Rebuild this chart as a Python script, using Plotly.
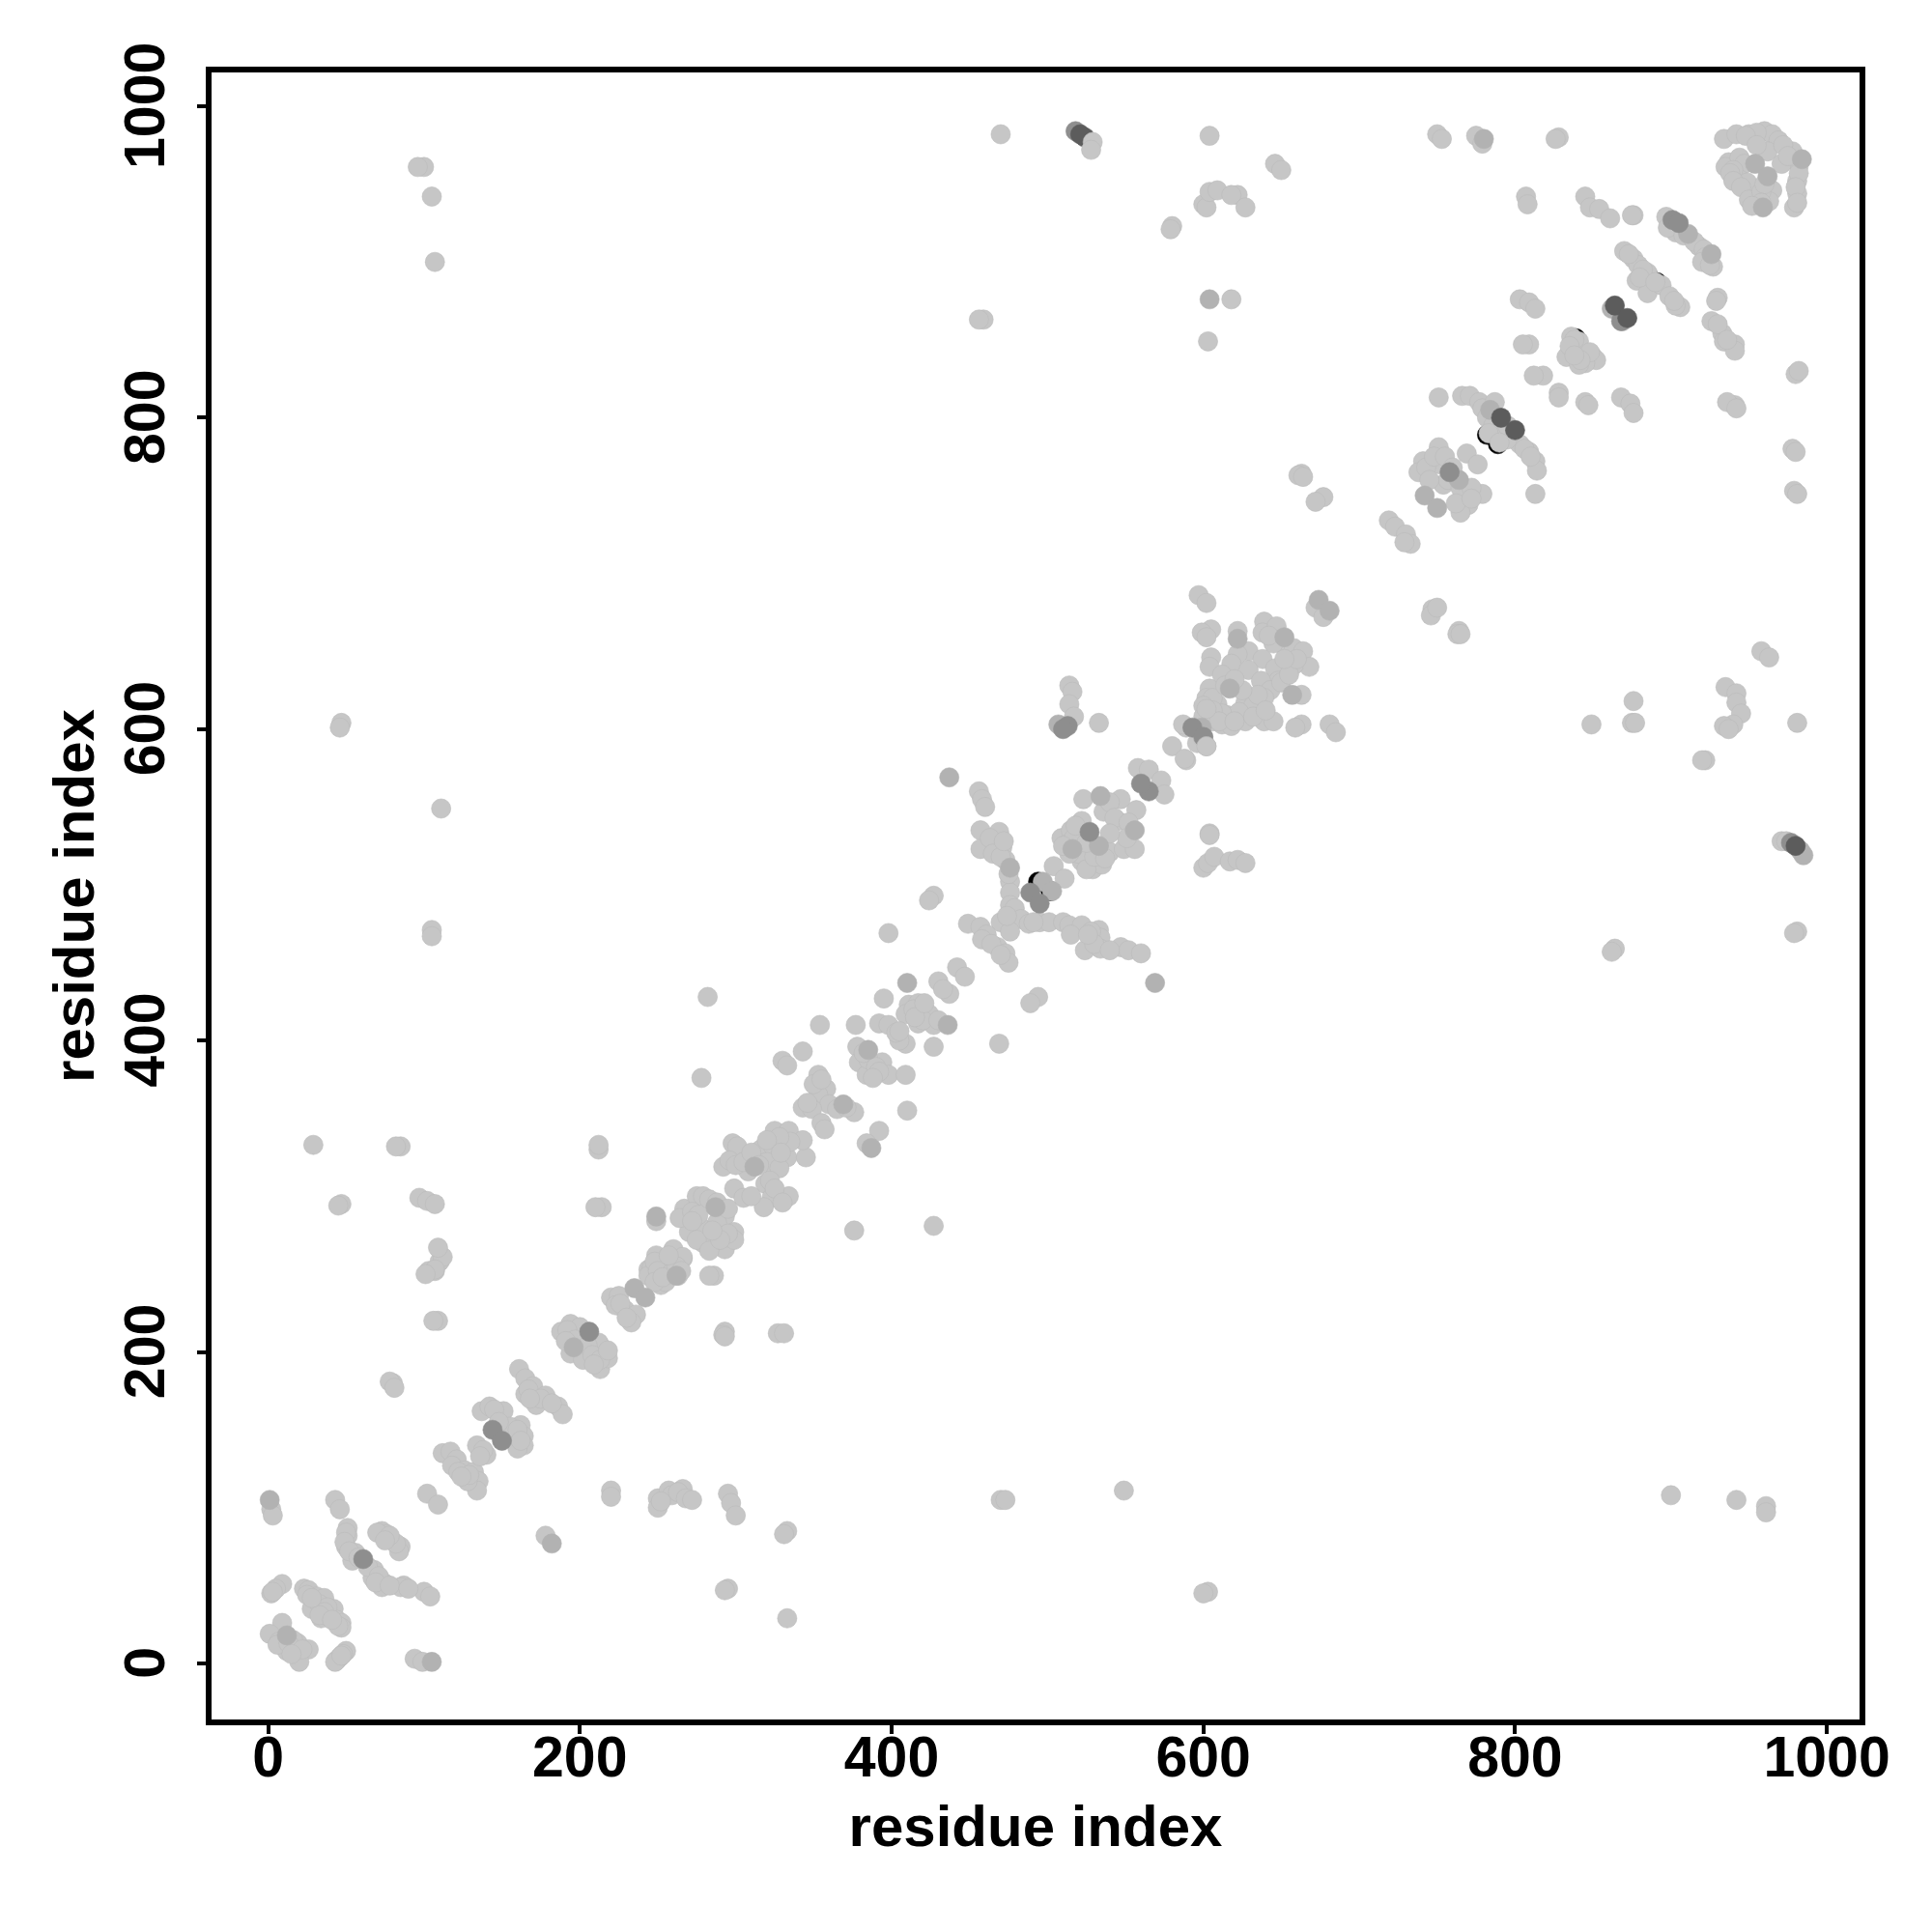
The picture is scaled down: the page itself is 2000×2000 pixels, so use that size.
import plotly.graph_objects as go

tick_values = [0, 200, 400, 600, 800, 1000]
axis_title = "residue index"

black = [(782,789),(789,783),(790,799),(798,791),(885,892),(891,887),(839,851),(845,840),(494,502),(502,496)]

light = [
 (9,26),(1,19),(7,14),(19,13),(12,8),(26,9),(20,1),(6,12),(44,2),(50,8),(46,4),(48,6),(43,1),(94,3),(99,1),
 (9,51),(5,48),(2,45),(3,46),(23,48),(26,47),(31,43),(36,42),(30,36),(28,35),(42,35),(34,29),(39,30),(44,28),(47,26),(47,23),(45,24),
 (43,105),(46,99),(51,87),(51,82),(50,75),(56,71),(54,66),(68,60),(67,55),(74,52),(73,49),(87,50),(85,49),(100,46),(104,43),
 (73,85),(76,83),(70,84),(85,75),(84,72),(82,77),
 (2,99),(3,95),(102,109),(109,102),(178,82),(220,111),(220,107),(250,106),(250,100),(257,111),(266,112),(259,108),(263,110),(268,106),(272,105),(252,104),
 (80,180),(78,181),(81,177),(109,220),(106,220),(103,252),(107,252),(110,258),(112,261),(109,267),(107,253),(101,250),
 (134,140),(140,134),(112,135),(117,136),(121,131),(118,127),(126,124),(122,123),(132,123),(135,117),(134,111),(128,117),
 (137,162),(142,165),(151,162),(162,153),(164,146),(164,140),(160,138),
 (161,189),(165,183),(170,178),(165,173),(178,172),(172,166),(186,165),(189,160),
 (188,213),(194,218),(200,216),(194,199),(202,195),(213,189),(215,202),(218,196),(212,206),
 (220,235),(225,236),(229,227),(236,224),(233,219),(223,230),
 (244,253),(252,243),(252,258),(266,260),(246,254),(254,257),(263,249),(255,245),(244,249),(260,266),(266,261),(249,262),
 (398,469),(282,428),(278,376),(212,330),(212,333),(214,293),(210,293),(249,284),(286,249),(283,249),(293,213),(292,211),(327,212),(331,212),(376,278),(427,281),
 (354,410),(377,410),(330,387),(343,393),(333,384),(353,378),(358,369),(353,365),(360,359),(376,354),(343,357),(349,356),(355,347),(357,343),
 (395,427),(392,411),(398,410),(378,396),(379,386),(384,378),(394,386),(398,378),(409,378),(409,398),(405,400),(410,355),(392,342),(384,334),
 (411,423),(417,424),(409,417),(417,411),(424,417),(427,410),(427,396),(430,438),(437,430),(442,447),(447,441),
 (298,334),(301,332),(325,342),(334,342),(316,330),(324,332),(333,325),(345,325),(343,336),(292,319),(296,323),(308,316),(319,308),(299,305),(305,299),(334,300),(323,299),(318,293),
 (267,292),(275,300),(279,300),(293,287),(270,277),(279,279),(299,277),(279,270),(293,266),(299,272),(264,286),
 (456,560),(458,555),(460,550),(457,535),(469,534),(457,523),(471,524),(473,516),(476,502),(476,495),(476,487),(479,485),(483,478),(488,475),(495,476),(501,476),(470,476),(476,470),
 (510,476),(514,474),(522,474),(533,471),(534,466),(524,458),(534,459),(547,460),(552,458),(560,456),
 (449,475),(457,473),(461,468),(468,460),(473,456),(475,450),
 (427,493),(424,490),(494,428),(489,424),(469,398),
 (504,512),(511,504),(509,530),(522,515),(529,510),(522,541),(540,521),(535,513),(515,535),
 (523,555),(547,555),(536,547),(545,541),(557,548),(549,523),(556,523),
 (558,575),(565,574),(573,567),(575,558),
 (580,589),(589,580),(589,601),(602,589),(596,591),
 (514,628),(516,624),(514,616),(517,608),(533,604),
 (604,533),(600,511),(603,514),(607,518),(617,515),(622,516),(627,514),
 (597,686),(602,681),(605,664),(599,662),(602,659),(622,663),(639,669),(638,662),(647,666),(648,656),(658,652),(664,650),(668,640),(658,641),
 (605,646),(604,640),(629,650),(638,645),(622,648),(618,642),(629,638),(646,639),(648,631),(637,631),(643,625),(627,617),(604,626),(602,620),(609,616),(639,620),(632,615),(663,622),
 (606,605),(612,603),(618,602),(627,605),(615,609),(623,611),(639,605),(645,605),(663,603),(659,601),(681,603),(685,598),(672,678),(677,672),(600,594),(587,603),(588,581),
 (751,813),(766,814),(771,814),(777,810),(779,806),(803,783),(809,778),(813,772),(814,766),(813,751),
 (751,781),(741,772),(738,765),(752,770),(754,757),(769,752),(779,751),(770,744),(765,739),(769,777),(776,770),
 (719,734),(723,730),(730,725),(733,719),(729,720),(747,677),(746,673),(750,678),(764,663),(763,661),(765,661),
 (876,618),(849,603),(875,604),(877,604),(935,627),(942,623),(942,617),(945,610),(940,603),(934,602),(937,600),(981,604),(958,650),(963,646),(922,580),(920,580),(980,828),(982,830),(941,808),(936,810),(942,806),(978,780),(980,778),(979,753),(981,751),
 (818,827),(812,827),(828,816),(828,813),(845,810),(847,808),(868,813),(874,809),(876,803),
 (750,982),(753,979),(775,981),(779,976),(828,980),(826,979),(807,942),(808,937),(845,942),(848,935),(854,934),(861,928),(876,930),(875,930),(897,929),(903,919),(918,910),(927,897),
 (870,907),(876,902),(879,898),(885,893),(878,888),(885,880),(894,885),(899,878),(906,871),(903,872),
 (803,876),(809,874),(813,870),(809,847),(805,847),(836,852),(841,849),(833,839),(850,839),(852,837),(845,835),(841,834),
 (930,877),(929,875),(926,862),(933,854),(934,849),(941,847),(941,843),
 (934,979),(942,982),(950,982),(960,984),(965,982),(969,978),(962,971),(978,971),(982,962),(971,963),(981,952),(981,944),(979,935),
 (937,964),(935,961),(944,967),(947,963),(944,953),(940,959),(952,944),(965,946),(956,940),(963,939),(949,951),
 (470,982),(604,981),(580,923),(579,921),(600,937),(602,935),(604,945),(609,946),(622,943),(618,943),(627,935),(646,963),(650,959),(618,876),(603,849),(459,863),(456,863),
 (100,961),(96,961),(105,942),(107,900),(111,549),(105,471),(105,467),(47,604),(46,601),(663,764),(661,763),(664,762),(677,749),(672,746),(604,532),
 (29,333),(85,332),(82,332),(47,295),(45,294),(97,299),(102,297),(107,295),
 (295,109),(297,103),(300,95),(295,48),(293,47),(333,85),(331,83),(333,29),(603,46),(600,45),(470,105),(473,105),(549,111),(900,108),(942,105),(961,101),(961,97),(864,459),(862,457),(981,470),(979,469),(293,210),
 (971,528),(974,528),
 # filled-in cluster interiors
 (16,15),(13,13),(22,9),(15,6),(47,5),(33,38),(38,36),(36,33),(33,31),(41,28),(25,44),(28,42),
 (50,84),(49,78),(52,72),(58,68),(64,62),(71,56),(69,52),(78,50),(90,48),(78,82),(75,79),
 (129,121),(124,120),(138,137),(136,133),(145,163),(155,152),(160,150),(162,143),(148,155),(167,176),(175,170),(182,167),(168,170),
 (192,214),(197,208),(191,207),(205,204),(208,198),(213,195),(209,192),(218,201),(226,231),(230,222),
 (248,258),(250,252),(258,250),(248,245),(253,248),(262,255),(257,262),(265,252),
 (272,290),(283,298),(288,296),(276,288),(285,270),(275,272),(288,283),(295,276),(283,265),(290,272),(272,284),(285,278),(295,292),
 (300,320),(305,322),(310,328),(320,322),(328,318),(335,335),(328,338),(320,336),(315,320),(322,310),(310,300),(325,305),(330,296),(329,328),
 (350,372),(346,360),(355,375),(365,356),(371,357),
 (385,388),(382,392),(390,383),(392,380),(388,376),(403,405),(405,406),(414,420),(420,413),(415,415),(421,424),(430,413),(433,433),
 (463,530),(465,520),(470,518),(472,528),(475,507),(474,480),(491,476),(515,468),(528,470),(530,462),(526,468),(540,458),(458,465),(464,462),(470,455),
 (512,526),(517,530),(520,520),(525,510),(530,518),(514,520),(510,525),(537,517),(525,527),(540,553),(543,543),(552,540),(551,530),(540,533),(518,538),
 (606,620),(600,615),(612,610),(606,612),(600,608),(610,605),(602,613),(620,605),(632,608),(635,622),(625,625),(640,612),(650,630),(655,635),(660,645),(652,645),(645,655),(642,660),(612,635),(614,628),(620,632),
 (743,768),(748,775),(755,775),(757,760),(760,768),(765,755),(772,755),(745,760),(762,745),(772,748),(787,810),(782,800),(786,795),(795,786),(806,780),(810,775),(795,795),
 (900,925),(898,922),(908,917),(915,913),(921,908),(922,903),(920,900),(925,898),(873,905),(882,895),(880,890),(890,887),(902,875),(838,850),(835,846),(848,842),(842,837),(838,840),
 (930,860),(936,850),(955,983),(948,981),(955,975),(972,975),(975,968),(982,957),(980,948),(981,938),(938,957),(940,952),(945,948),(950,940),(958,945),(960,950),(958,938),(952,936),
]

mid = [
 (12,18),(105,1),(1,105),(182,77),(196,203),(235,241),(242,235),(262,249),(287,293),(249,287),(385,394),(387,331),(410,437),(369,359),(312,319),
 (436,410),(437,569),(569,437),(476,511),(497,502),(503,496),(516,523),(533,525),(534,557),(556,535),(657,622),(622,658),(674,683),(681,676),(652,659),(617,626),
 (742,750),(750,742),(784,805),(764,760),(926,905),(911,918),(984,966),(954,963),(962,955),(959,935),(780,979),(507,603),(862,870),(869,862),(604,876),(983,522),(985,519),(599,601),
]

darker = [
 (144,150),(150,143),(206,213),(61,67),(489,495),(495,488),(527,534),(565,560),(560,565),(593,601),(600,595),(758,765),(513,602),(510,600),(901,927),(905,925),(518,984),(868,862),(977,527),
]

dark = [(791,800),(800,792),(864,872),(872,864),(524,980),(521,982),(980,525)]

top_light = [(529,977),(528,972),(783,790),(790,784),(602,589)]

layers = [(black, "#000000"), (light, "#c6c6c6"), (mid, "#b2b2b2"), (darker, "#8e8e8e"), (dark, "#5c5c5c"), (top_light, "#c6c6c6")]

fig = go.Figure()
for pts, colour in layers:
    fig.add_trace(go.Scatter(x=[p[0] for p in pts], y=[p[1] for p in pts], mode="markers",
                             marker=dict(size=20, color=colour, line=dict(width=0.6, color="#bababa" if colour == "#c6c6c6" else colour)),
                             showlegend=False, cliponaxis=False))

tfont = dict(family="Liberation Sans", size=59, color="black", weight="bold")
title_font = dict(family="Liberation Sans", size=60, color="black", weight="bold")
axis = dict(tick0=0, dtick=200, tickmode="linear",
            showgrid=False, zeroline=False, showline=True, mirror=True, linecolor="black", linewidth=6,
            ticks="outside", ticklen=9, tickwidth=4, tickcolor="black", tickfont=tfont)
fig.update_layout(width=1992, height=1992, plot_bgcolor="white", paper_bgcolor="white",
                  margin=dict(l=211, r=75, t=67, b=220))
fig.update_xaxes(range=[-36.3, 1021], ticklabelstandoff=-27,
                 title=dict(text=axis_title, standoff=20, font=title_font), **axis)
fig.update_yaxes(range=[-36, 1021.7], tickangle=-90, ticklabelstandoff=10, ticksuffix="\u00a0",
                 title=dict(text=axis_title, standoff=2, font=title_font), **axis)
fig.write_html("out.html")
